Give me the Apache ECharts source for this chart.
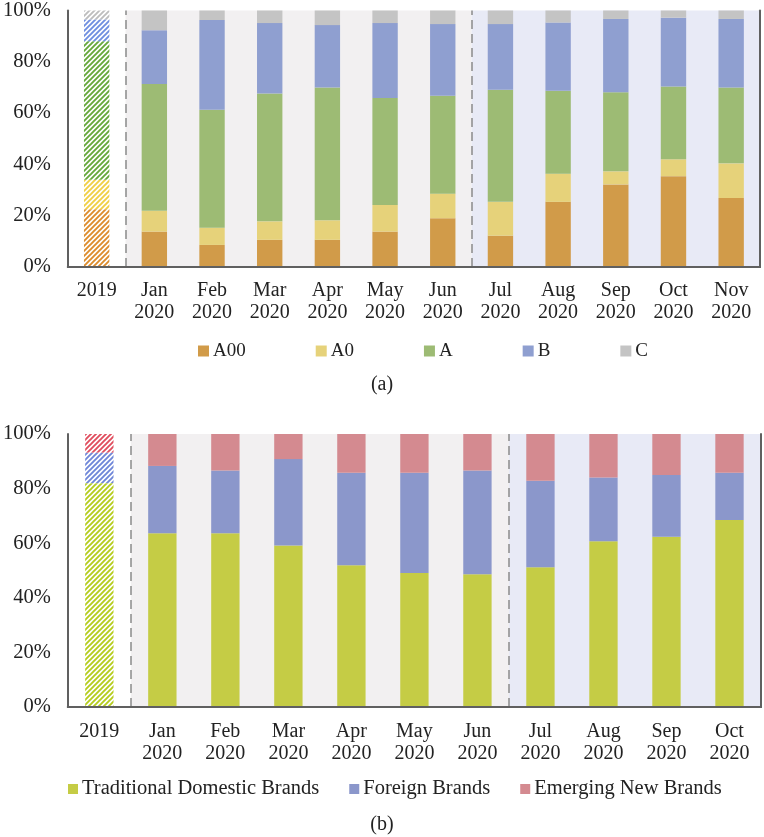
<!DOCTYPE html>
<html>
<head>
<meta charset="utf-8">
<script src="https://cdn.jsdelivr.net/npm/echarts@6/dist/echarts.min.js"></script>
<style>html,body{margin:0;padding:0;background:#fff;}#c{width:764px;height:837px;}</style>
</head>
<body>
<div id="c"></div>
<script>
// ---- Data (a): vehicle class shares, % ----
const topCats = ['2019','Jan\n2020','Feb\n2020','Mar\n2020','Apr\n2020','May\n2020','Jun\n2020','Jul\n2020','Aug\n2020','Sep\n2020','Oct\n2020','Nov\n2020'];
const topNames = ['A00','A0','A','B','C'];
const A00 = [22.5,13.8,8.6,10.6,10.6,13.8,19.0,12.2,25.4,32.2,35.4,26.9];
const A0v = [11.5,8.1,6.7,7.2,7.6,10.4,9.6,13.2,11.0,5.1,6.6,13.5];
const Av  = [54.0,49.4,46.0,49.8,51.8,41.7,38.2,43.7,32.3,30.8,28.4,29.6];
const Bv  = [8.5,21.0,35.0,27.5,24.3,29.2,27.9,25.6,26.6,28.6,26.8,26.7];
const Cv  = [3.5,7.7,3.7,4.9,5.7,4.9,5.3,5.3,4.7,3.3,2.8,3.3];

// ---- Data (b): brand type shares, % ----
const botCats = ['2019','Jan\n2020','Feb\n2020','Mar\n2020','Apr\n2020','May\n2020','Jun\n2020','Jul\n2020','Aug\n2020','Sep\n2020','Oct\n2020'];
const botNames = ['Traditional Domestic Brands','Foreign Brands','Emerging New Brands'];
const TDB = [82.0,63.6,63.6,59.2,51.9,49.1,48.6,51.2,60.7,62.4,68.5];
const FB  = [11.2,24.7,23.0,31.6,33.9,36.7,38.0,31.7,23.4,22.6,17.3];
const ENB = [6.8,11.7,13.4,9.2,14.2,14.2,13.4,17.1,15.9,15.0,14.2];

const yTicks = [0,20,40,60,80,100];

// ---- style ----
const FONT = "'Liberation Serif','Times New Roman',serif";
const AXC = '#606060';
const topColors = ['#d19b49','#e6d27a','#9dbb74','#8f9fd0','#c4c4c4'];
const topHatch = ['#dc8c2c','#f0cf45','#66a83a','#6f8ee0','#bdbdbd'];
const botColors = ['#c5cc45','#8b97cb','#d48a90'];
const botHatch = ['#b5cc1e','#6f86d8','#e04e5e'];

function hatch(color){
  const s = 5;
  const c = document.createElement('canvas');
  c.width = s; c.height = s;
  const g = c.getContext('2d');
  g.fillStyle = '#fff'; g.fillRect(0,0,s,s);
  g.strokeStyle = color; g.lineWidth = 1.9;
  g.beginPath();
  g.moveTo(-1, s+1); g.lineTo(s+1, -1);
  g.moveTo(-1, 1); g.lineTo(1, -1);
  g.moveTo(s-1, s+1); g.lineTo(s+1, s-1);
  g.stroke();
  return {image: c, repeat: 'repeat'};
}

function barSeries(name, vals, color, hcolor, stack, xi, yi, bw){
  return {
    name, type:'bar', stack, xAxisIndex:xi, yAxisIndex:yi, barWidth:bw, z:2,
    itemStyle:{color},
    data: vals.map((v,i)=> i===0 ? {value:v, itemStyle:{color:hatch(hcolor)}} : v)
  };
}

function regionSeries(xi, yi, n){
  return {
    type:'line', xAxisIndex:xi, yAxisIndex:yi, z:1, silent:true,
    data:[[0,null]], symbol:'none', lineStyle:{opacity:0},
    markArea:{silent:true, data:[
      [{xAxis:1, itemStyle:{color:'#f2f0f1'}},{xAxis:7}],
      [{xAxis:7, itemStyle:{color:'#e8eaf6'}},{xAxis:n}]
    ]},
    markLine:{silent:true, symbol:'none', label:{show:false},
      lineStyle:{color:'#8a8a8a', type:[9,5], width:1.5},
      data:[{xAxis:1},{xAxis:7}]}
  };
}

const lbl = {fontFamily:FONT, fontSize:20, color:'#222'};

function catAxis(gi, cats, margin){
  return {type:'category', gridIndex:gi, data:cats, position:'bottom', z:10,
    axisLine:{show:true, lineStyle:{color:AXC, width:2}},
    axisTick:{show:false},
    axisLabel:Object.assign({margin, lineHeight:22, interval:0}, lbl)};
}
function topBorder(gi, n){
  return {type:'value', gridIndex:gi, min:0, max:n, position:'top', z:10,
    axisLine:{show:true, lineStyle:{color:AXC, width:2}},
    axisTick:{show:false}, axisLabel:{show:false}, splitLine:{show:false}};
}
function yAx(gi){
  return {type:'value', gridIndex:gi, min:yTicks[0], max:yTicks[yTicks.length-1], interval:yTicks[1]-yTicks[0], z:10,
    axisLine:{show:true, lineStyle:{color:AXC, width:2}},
    axisTick:{show:false}, splitLine:{show:false},
    axisLabel:Object.assign({margin:17, formatter:'{value}%'}, lbl, {fontSize:20.5})};
}
function yRight(gi){
  return {type:'value', gridIndex:gi, min:0, max:100, position:'right', z:10,
    axisLine:{show:true, lineStyle:{color:AXC, width:2}},
    axisTick:{show:false}, axisLabel:{show:false}, splitLine:{show:false}};
}

const series = [
  regionSeries(1, 0, topCats.length),
  barSeries(topNames[0], A00, topColors[0], topHatch[0], 'a', 0, 0, '44%'),
  barSeries(topNames[1], A0v, topColors[1], topHatch[1], 'a', 0, 0, '44%'),
  barSeries(topNames[2], Av,  topColors[2], topHatch[2], 'a', 0, 0, '44%'),
  barSeries(topNames[3], Bv,  topColors[3], topHatch[3], 'a', 0, 0, '44%'),
  barSeries(topNames[4], Cv,  topColors[4], topHatch[4], 'a', 0, 0, '44%'),
  regionSeries(3, 2, botCats.length),
  barSeries(botNames[0], TDB, botColors[0], botHatch[0], 'b', 2, 2, '45%'),
  barSeries(botNames[1], FB,  botColors[1], botHatch[1], 'b', 2, 2, '45%'),
  barSeries(botNames[2], ENB, botColors[2], botHatch[2], 'b', 2, 2, '45%')
];

const chart = echarts.init(document.getElementById('c'), null, {renderer:'canvas'});
chart.setOption({
  animation:false,
  backgroundColor:'#fff',
  grid:[
    {left:65, top:7, width:695, height:260},
    {left:65, top:434, width:696, height:273}
  ],
  xAxis:[catAxis(0, topCats, 13), topBorder(0, topCats.length), catAxis(1, botCats, 14), topBorder(1, botCats.length)],
  yAxis:[yAx(0), yRight(0), yAx(1), yRight(1)],
  legend:[
    {data:topNames, left:193, top:335, icon:'rect', itemWidth:11, itemHeight:11, itemGap:70,
      textStyle:Object.assign({lineHeight:22, padding:[0,0,0,-1]}, lbl, {fontSize:19}), selectedMode:false},
    {data:botNames, left:63, top:773, icon:'rect', itemWidth:10, itemHeight:10, itemGap:30,
      textStyle:Object.assign({lineHeight:22, padding:[0,0,0,-1]}, lbl, {fontSize:20.5}), selectedMode:false}
  ],
  title:[
    {text:'(a)', left:'center', top:370, textStyle:{fontFamily:FONT, fontSize:20, fontWeight:'normal', color:'#222'}},
    {text:'(b)', left:'center', top:810, textStyle:{fontFamily:FONT, fontSize:20, fontWeight:'normal', color:'#222'}}
  ],
  series
});
</script>
</body>
</html>
